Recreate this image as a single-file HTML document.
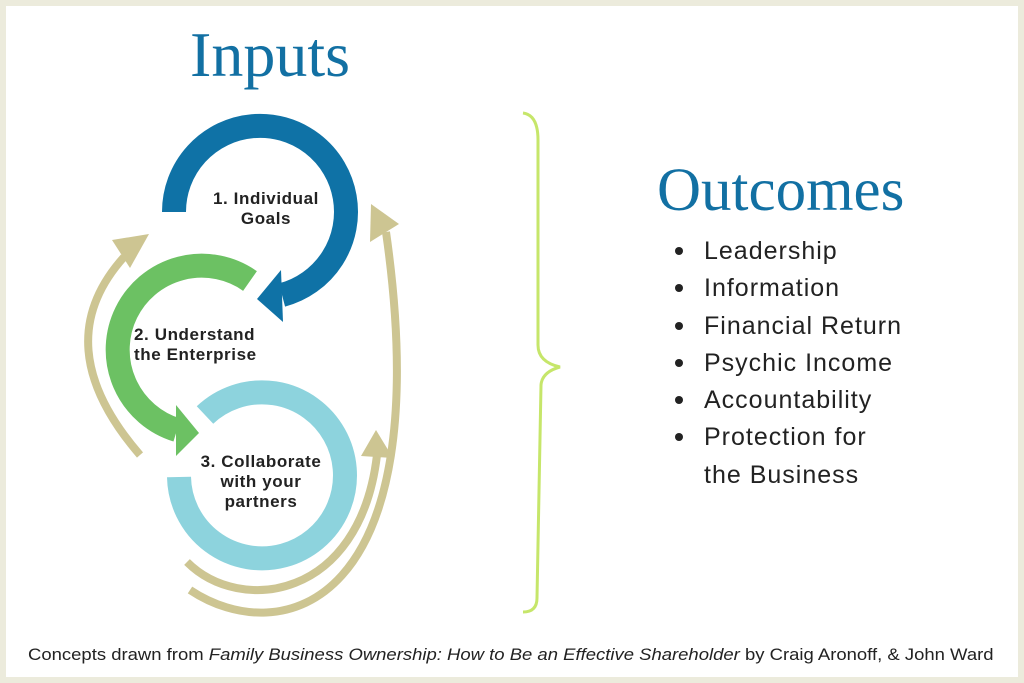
<!DOCTYPE html>
<html><head><style>
body{margin:0;}
.f{width:1024px;height:683px;position:relative;background:#fff;box-sizing:border-box;border:6px solid #ecebdc;overflow:hidden;font-family:"Liberation Sans",sans-serif;}
.t{position:absolute;white-space:nowrap;}
.b{position:absolute;font-size:25px;letter-spacing:1px;color:#222;white-space:nowrap;line-height:30px}
.d{position:absolute;width:8px;height:8px;border-radius:50%;background:#222}
</style></head><body><div class="f">
<svg width="1024" height="683" style="position:absolute;left:-6px;top:-6px">
<path d="M174,212 A86,86 0 1 1 282,295" fill="none" stroke="#0f72a6" stroke-width="24"/>
<polygon points="281,270 283,322 257,299" fill="#0f72a6"/>
<path d="M250,281 A84,84 0 1 0 177,430" fill="none" stroke="#6cc163" stroke-width="24"/>
<polygon points="176,405 176,456 199,433" fill="#6cc163"/>
<path d="M205,415 A83,83 0 1 1 179,477" fill="none" stroke="#8dd3dd" stroke-width="24"/>
<g fill="none" stroke="#cdc592" stroke-width="8">
<path d="M140,455 Q45,345 124,257"/>
<path d="M187,562 C240,615 360,600 377,455"/>
<path d="M190,590 C280,650 440,610 386,232"/>
</g>
<g fill="#cdc592">
<polygon points="112,240 130,268 149,234"/>
<polygon points="361,456 393,458 376,430"/>
<polygon points="370,242 399,224 371,204"/>
</g>
<path d="M523,113 Q538,115 538,140 L538,345 Q538,362 560,367 Q542,372 541,385 L537,598 Q537,612 523,612" fill="none" stroke="#c6e66a" stroke-width="3"/>
</svg>
<div class="t" style="left:184px;top:12px;font:64px 'Liberation Serif',serif;color:#1270a3">Inputs</div>
<div class="t" style="left:651px;top:150px;font:61px 'Liberation Serif',serif;color:#1270a3">Outcomes</div>
<div style="position:absolute;left:0;top:0;font-weight:bold;font-size:17px;letter-spacing:0.6px;color:#222;line-height:20px">
<div class="t" style="left:190px;top:183px;width:140px;text-align:center">1. Individual<br>Goals</div>
<div class="t" style="left:128px;top:319px">2. Understand<br>the Enterprise</div>
<div class="t" style="left:180px;top:446px;width:150px;text-align:center">3. Collaborate<br>with your<br>partners</div>
</div>
<div class="d" style="left:669px;top:241px"></div>
<div class="d" style="left:669px;top:278px"></div>
<div class="d" style="left:669px;top:316px"></div>
<div class="d" style="left:669px;top:353px"></div>
<div class="d" style="left:669px;top:390px"></div>
<div class="d" style="left:669px;top:427px"></div>
<div class="b" style="left:698px;top:230px">Leadership</div>
<div class="b" style="left:698px;top:267px">Information</div>
<div class="b" style="left:698px;top:305px">Financial Return</div>
<div class="b" style="left:698px;top:342px">Psychic Income</div>
<div class="b" style="left:698px;top:379px">Accountability</div>
<div class="b" style="left:698px;top:416px">Protection for</div>
<div class="b" style="left:698px;top:454px">the Business</div>
<div class="t" style="left:22px;top:640px;font-size:16.5px;color:#222;transform:scaleX(1.12);transform-origin:0 0">Concepts drawn from <i>Family Business Ownership: How to Be an Effective Shareholder</i> by Craig Aronoff, &amp; John Ward</div>
</div></body></html>
